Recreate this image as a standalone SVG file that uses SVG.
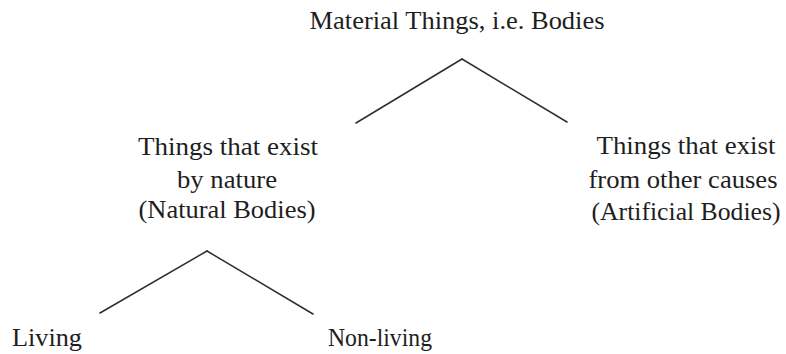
<svg xmlns="http://www.w3.org/2000/svg" width="786" height="354" viewBox="0 0 786 354">
<style>
text{font-family:"Liberation Serif","Times New Roman",serif;font-size:25px;fill:#1e1e1e;text-anchor:middle}
.c line{stroke:#2e2e2e;stroke-width:1.5;stroke-linecap:round}
</style>
<rect width="786" height="354" fill="#ffffff"/>
<g id="root"><text x="457" y="29" textLength="295" lengthAdjust="spacingAndGlyphs">Material Things, i.e. Bodies</text></g>
<g id="natural">
<text x="228" y="155" textLength="180" lengthAdjust="spacingAndGlyphs">Things that exist</text>
<text x="227" y="188" textLength="100" lengthAdjust="spacingAndGlyphs">by nature</text>
<text x="227" y="218" textLength="177" lengthAdjust="spacingAndGlyphs">(Natural Bodies)</text>
</g>
<g id="artificial">
<text x="686" y="154" textLength="179" lengthAdjust="spacingAndGlyphs">Things that exist</text>
<text x="683" y="188" textLength="189" lengthAdjust="spacingAndGlyphs">from other causes</text>
<text x="686" y="220" textLength="189" lengthAdjust="spacingAndGlyphs">(Artificial Bodies)</text>
</g>
<g id="living"><text x="47" y="346" textLength="70" lengthAdjust="spacingAndGlyphs">Living</text></g>
<g id="nonliving"><text x="380" y="346" textLength="104" lengthAdjust="spacingAndGlyphs">Non-living</text></g>
<g class="c" id="connectors">
<line x1="462" y1="59" x2="356" y2="123"/>
<line x1="462" y1="59" x2="567" y2="122"/>
<line x1="207" y1="251" x2="100" y2="313"/>
<line x1="207" y1="251" x2="313" y2="314"/>
</g>
</svg>
